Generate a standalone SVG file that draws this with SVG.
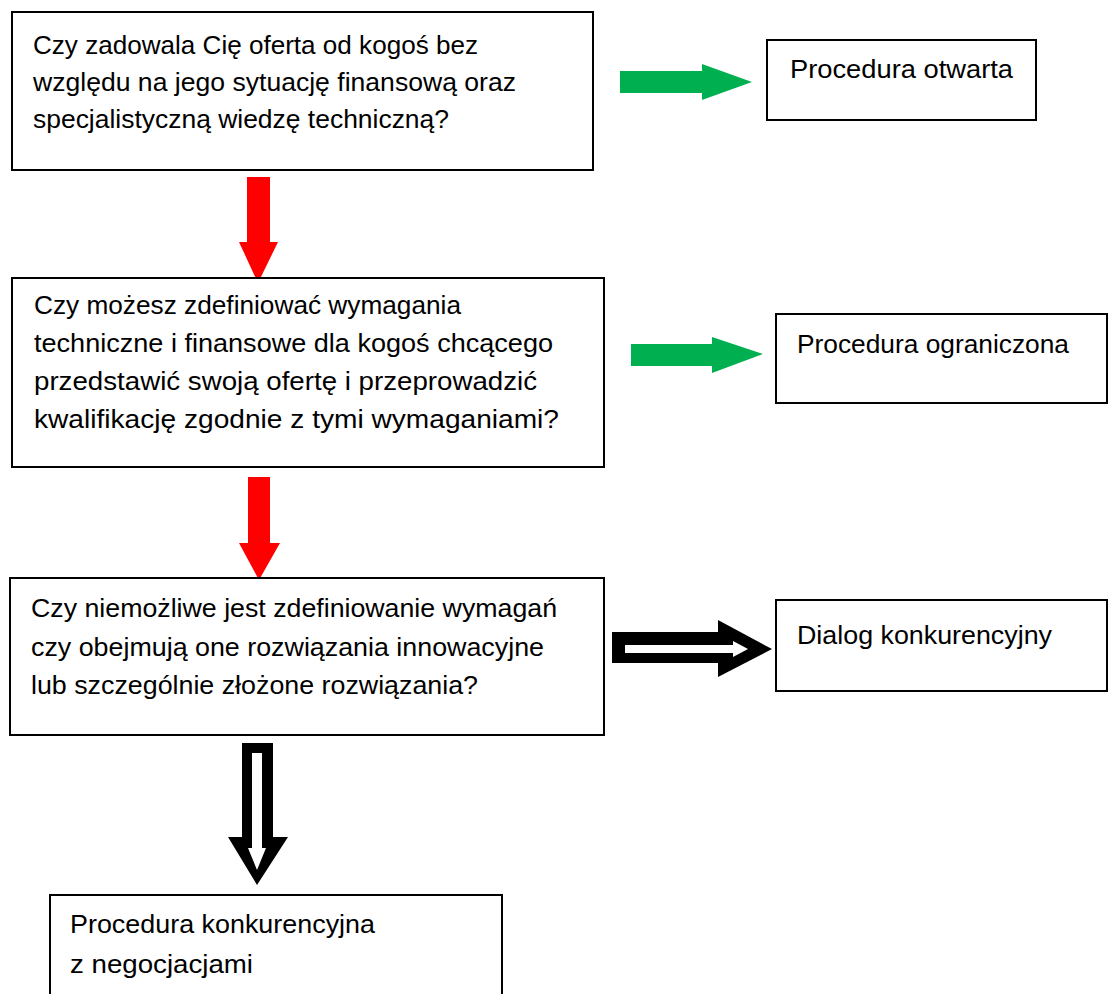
<svg xmlns="http://www.w3.org/2000/svg" width="1108" height="994" viewBox="0 0 1108 994">
<style>
.box{fill:#fff;stroke:#000;stroke-width:2}
text{font-family:"Liberation Sans",Arial,sans-serif;font-size:26px;fill:#000}
.green{fill:#00b050}
.red{fill:#ff0000}
.blk{fill:#000}
.wht{fill:#fff}
</style>
<rect width="1108" height="994" fill="#fff"/>
<g id="connectors">
<polygon class="green" points="620,71 702,71 702,64 752,82 702,100 702,93 620,93"/>
<polygon class="green" points="631,344 712,344 712,337 763,354 712,373 712,366 631,366"/>
<polygon class="red" points="247,177 270,177 270,242 278,242 258,283 239,242 247,242"/>
<polygon class="red" points="248,477 270,477 270,543 280,543 259,580 239,543 248,543"/>
<polygon class="blk" points="612,632 718,632 718,620 772,649 718,677 718,663 612,663"/>
<polygon class="wht" points="625,645 733,645 733,641 748,649 733,657 733,653 625,653"/>
<polygon class="blk" points="242,743 273,743 273,837 288,837 257,885 228,837 242,837"/>
<polygon class="wht" points="252,753 262,753 262,848 266,848 257,870 248,848 252,848"/>
</g>
<g id="q1">
<rect class="box" x="12" y="12" width="581" height="158"/>
<text x="33" y="54" textLength="445" lengthAdjust="spacingAndGlyphs">Czy zadowala Cię oferta od kogoś bez</text>
<text x="33" y="91" textLength="483" lengthAdjust="spacingAndGlyphs">względu na jego sytuację finansową oraz</text>
<text x="33" y="128" textLength="416" lengthAdjust="spacingAndGlyphs">specjalistyczną wiedzę techniczną?</text>
</g>
<g id="q2">
<rect class="box" x="12" y="278" width="592" height="189"/>
<text x="34" y="314" textLength="427" lengthAdjust="spacingAndGlyphs">Czy możesz zdefiniować wymagania</text>
<text x="34" y="352" textLength="519" lengthAdjust="spacingAndGlyphs">techniczne i finansowe dla kogoś chcącego</text>
<text x="34" y="390" textLength="503" lengthAdjust="spacingAndGlyphs">przedstawić swoją ofertę i przeprowadzić</text>
<text x="34" y="428" textLength="525" lengthAdjust="spacingAndGlyphs">kwalifikację zgodnie z tymi wymaganiami?</text>
</g>
<g id="q3">
<rect class="box" x="10" y="578" width="594" height="157"/>
<text x="31" y="617" textLength="526" lengthAdjust="spacingAndGlyphs">Czy niemożliwe jest zdefiniowanie wymagań</text>
<text x="31" y="656" textLength="513" lengthAdjust="spacingAndGlyphs">czy obejmują one rozwiązania innowacyjne</text>
<text x="31" y="694" textLength="447" lengthAdjust="spacingAndGlyphs">lub szczególnie złożone rozwiązania?</text>
</g>
<g id="r1">
<rect class="box" x="767" y="40" width="269" height="80"/>
<text x="790" y="78" textLength="223" lengthAdjust="spacingAndGlyphs">Procedura otwarta</text>
</g>
<g id="r2">
<rect class="box" x="776" y="314" width="331" height="89"/>
<text x="797" y="353" textLength="272" lengthAdjust="spacingAndGlyphs">Procedura ograniczona</text>
</g>
<g id="r3">
<rect class="box" x="776" y="600" width="331" height="91"/>
<text x="797" y="644" textLength="255" lengthAdjust="spacingAndGlyphs">Dialog konkurencyjny</text>
</g>
<g id="r4">
<rect class="box" x="50" y="895" width="452" height="110"/>
<text x="70" y="933" textLength="305" lengthAdjust="spacingAndGlyphs">Procedura konkurencyjna</text>
<text x="70" y="973" textLength="183" lengthAdjust="spacingAndGlyphs">z negocjacjami</text>
</g>
</svg>
